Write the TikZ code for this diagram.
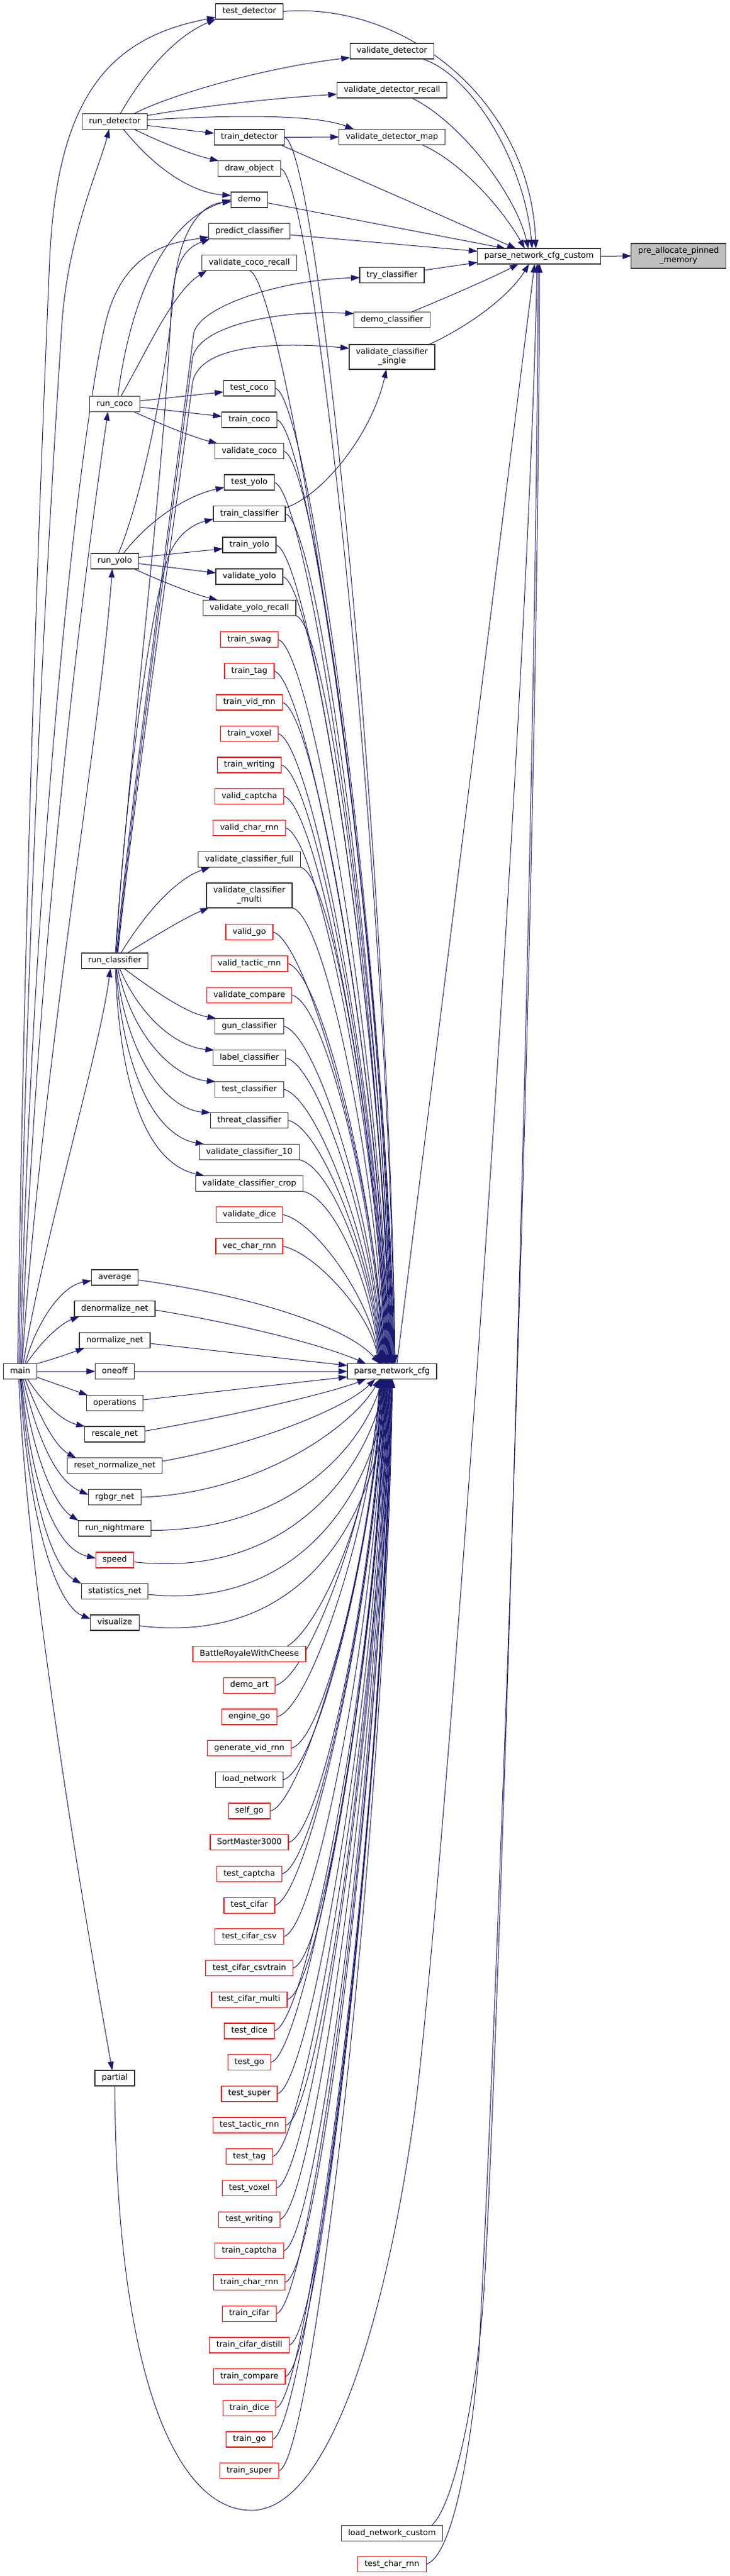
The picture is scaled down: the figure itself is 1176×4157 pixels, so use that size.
\documentclass[tikz,border=0pt]{standalone}
\usepackage{fontspec}
\newfontfamily\nfam{DejaVu Sans}
\newcommand\nf{\nfam\fontsize{13}{15}\selectfont}
\usetikzlibrary{arrows.meta,backgrounds,calc}
\definecolor{edgeblue}{HTML}{191970}
\definecolor{nodeborder}{HTML}{333333}
\definecolor{hlgray}{HTML}{BFBFBF}
\tikzset{
 nbox/.style={draw=nodeborder, line width=1.2pt, fill=white, font=\nf, inner xsep=11pt, inner ysep=2pt, outer sep=0pt, minimum height=25pt},
 nd/.style={nbox, text height=9.5pt, text depth=3.2pt},
 rd/.style={nd, draw=red},
 nd2/.style={nbox, align=center, minimum height=40pt},
 edg/.style={draw=edgeblue, line width=1pt, -{Triangle[length=14pt,width=9.5pt]}},
}
\begin{document}
\begin{tikzpicture}[x=1pt,y=-1pt]
\useasboundingbox (0,0) rectangle (1176,4157);
% ---------- column A / B
\node[nd] (main) at (32.5,2213) {main};
\node[nd] (rdet) at (185,196) {run\_detector};
\node[nd] (rcoco) at (185,652) {run\_coco};
\node[nd] (ryolo) at (185,905.5) {run\_yolo};
\node[nd] (rcls) at (185,1550.5) {run\_classifier};
\node[nd] (avg) at (185,2061.5) {average};
\node[nd] (denorm) at (185,2112) {denormalize\_net};
\node[nd] (norm) at (185,2163) {normalize\_net};
\node[nd] (oneoff) at (185,2213) {oneoff};
\node[nd] (ops) at (185,2264) {operations};
\node[nd] (rescale) at (185,2314.5) {rescale\_net};
\node[nd] (resetn) at (185,2365) {reset\_normalize\_net};
\node[nd] (rgbgr) at (185,2416) {rgbgr\_net};
\node[nd] (nightmare) at (185,2466.5) {run\_nightmare};
\node[rd] (speed) at (185,2517.5) {speed};
\node[nd] (stats) at (185,2568) {statistics\_net};
\node[nd] (vis) at (185,2618.5) {visualize};
\node[nd] (partial) at (185,3353.5) {partial};
% ---------- column C (upper)
\node[nd] (tdet) at (402,18.5) {test\_detector};
\node[nd] (trdet) at (402,221.5) {train\_detector};
\node[nd] (drawobj) at (402,272) {draw\_object};
\node[nd] (demo) at (402,322.5) {demo};
\node[nd] (predcls) at (402,373) {predict\_classifier};
\node[nd] (vcocor) at (402,424) {validate\_coco\_recall};
\node[nd] (tcoco) at (402,626.5) {test\_coco};
\node[nd] (trcoco) at (402,677.5) {train\_coco};
\node[nd] (vcoco) at (402,728) {validate\_coco};
\node[nd] (tyolo) at (402,778.5) {test\_yolo};
\node[nd] (trcls) at (402,829) {train\_classifier};
\node[nd] (tryolo) at (402,879.5) {train\_yolo};
\node[nd] (vyolo) at (402,930.5) {validate\_yolo};
\node[nd] (vyolor) at (402,981) {validate\_yolo\_recall};
\node[rd] (tswag) at (402,1032) {train\_swag};
\node[rd] (ttag) at (402,1083) {train\_tag};
\node[rd] (tvid) at (402,1133.5) {train\_vid\_rnn};
\node[rd] (tvoxel) at (402,1184) {train\_voxel};
\node[rd] (twriting) at (402,1234.5) {train\_writing};
\node[rd] (vcaptcha) at (402,1285) {valid\_captcha};
\node[rd] (vcharrnn) at (402,1336) {valid\_char\_rnn};
\node[nd] (vcfull) at (402,1387) {validate\_classifier\_full};
\node[nd2] (vcmulti) at (402,1445) {validate\_classifier\\\_multi};
\node[rd] (vgo) at (402,1504) {valid\_go};
\node[rd] (vtactic) at (402,1555) {valid\_tactic\_rnn};
\node[rd] (vcompare) at (402,1606) {validate\_compare};
\node[nd] (gun) at (402,1656) {gun\_classifier};
\node[nd] (label) at (402,1707) {label\_classifier};
\node[nd] (tcls) at (402,1758) {test\_classifier};
\node[nd] (threat) at (402,1808) {threat\_classifier};
\node[nd] (vc10) at (402,1859) {validate\_classifier\_10};
\node[nd] (vccrop) at (402,1910) {validate\_classifier\_crop};
\node[rd] (vdice) at (402,1960) {validate\_dice};
\node[rd] (vecchar) at (402,2011) {vec\_char\_rnn};
% ---------- column C (lower)
\foreach \nm/\st/\lab [count=\i from 0] in {battle/rd/BattleRoyaleWithCheese, demoart/rd/demo\_art, enginego/rd/engine\_go, genvid/rd/generate\_vid\_rnn, loadnet/nd/load\_network, selfgo/rd/self\_go, sortm/rd/SortMaster3000, tcaptcha/rd/test\_captcha, tcifar/rd/test\_cifar, tcifarcsv/rd/test\_cifar\_csv, tcifarcsvtrain/rd/test\_cifar\_csvtrain, tcifarmulti/rd/test\_cifar\_multi, tdice/rd/test\_dice, tgo/rd/test\_go, tsuper/rd/test\_super, ttactic/rd/test\_tactic\_rnn, ttagb/rd/test\_tag, tvoxelb/rd/test\_voxel, twritingb/rd/test\_writing, trcaptcha/rd/train\_captcha, trcharrnn/rd/train\_char\_rnn, trcifar/rd/train\_cifar, trcifardistill/rd/train\_cifar\_distill, trcompare/rd/train\_compare, trdice/rd/train\_dice, trgo/rd/train\_go, trsuper/rd/train\_super}
  \node[\st] (\nm) at (402,{2669+50.7*\i}) {\lab};
% ---------- column D
\node[nd] (vdet) at (632,82.5) {validate\_detector};
\node[nd] (vdetr) at (632,145.5) {validate\_detector\_recall};
\node[nd] (vdetmap) at (632,221) {validate\_detector\_map};
\node[nd] (trycls) at (632,444) {try\_classifier};
\node[nd] (democls) at (632,516) {demo\_classifier};
\node[nd2] (vcsingle) at (632,576) {validate\_classifier\\\_single};
\node[nd] (pnc) at (632,2213) {parse\_network\_cfg};
\node[nd] (lnc) at (632,4088) {load\_network\_custom};
\node[rd] (tcharrnn) at (632,4138) {test\_char\_rnn};
% ---------- column E / F
\node[nd] (pncc) at (869,413.5) {parse\_network\_cfg\_custom};
\node[nd2, fill=hlgray] (pam) at (1094,413) {pre\_allocate\_pinned\\\_memory};

\begin{pgfonlayer}{background}
\fill[white] (0,0) rectangle (1176,4157);
% ---- main
\draw[edg] ([xshift=-4pt]main.north) .. controls (40,1400) and (68,700) .. (80,420) .. controls (92,150) and (180,60) .. ([yshift=3pt]tdet.south west);
\draw[edg] ([xshift=-2pt]main.north) .. controls (45,1400) and (82,800) .. (100,520) .. controls (110,380) and (160,270) .. ([xshift=-9pt]rdet.south);
\draw[edg] (main.north) .. controls (55,1300) and (140,610) .. (176,500) .. controls (210,395) and (290,390) .. ([yshift=3pt]predcls.south west);
\draw[edg] ([xshift=2pt]main.north) .. controls (60,1500) and (140,900) .. ([xshift=-11pt]rcoco.south);
\draw[edg] ([xshift=3pt]main.north) .. controls (70,1700) and (160,1200) .. ([xshift=-4pt]ryolo.south);
\draw[edg] ([xshift=5pt]main.north) .. controls (70,2000) and (160,1700) .. ([xshift=-7pt]rcls.south);
\draw[edg] ([xshift=8pt]main.north) .. controls (60,2130) and (100,2075) .. ([yshift=-5pt]avg.west);
\draw[edg] ([xshift=10pt]main.north) .. controls (70,2160) and (100,2135) .. ([xshift=8pt]denorm.south west);
\draw[edg] (main.north east) .. controls (90,2192) and (115,2183) .. ([xshift=8pt]norm.south west);
\draw[edg] (main.east) -- (oneoff.west);
\draw[edg] ([yshift=3pt]main.south east) -- ([xshift=2pt]ops.north west);
\draw[edg] ([xshift=12pt]main.south) .. controls (70,2265) and (100,2293) .. (rescale.north west);
\draw[edg] ([xshift=8pt]main.south) .. controls (65,2290) and (90,2335) .. ([xshift=14pt]resetn.north west);
\draw[edg] ([xshift=5pt]main.south) .. controls (60,2320) and (90,2390) .. ([yshift=4pt]rgbgr.west);
\draw[edg] ([xshift=3pt]main.south) .. controls (55,2360) and (90,2430) .. (nightmare.north west);
\draw[edg] ([xshift=2pt]main.south) .. controls (50,2400) and (90,2500) .. ([yshift=3pt]speed.west);
\draw[edg] ([xshift=1pt]main.south) .. controls (48,2420) and (85,2530) .. (stats.north west);
\draw[edg] (main.south) .. controls (45,2450) and (90,2590) .. ([yshift=6pt]vis.west);
\draw[edg] ([xshift=-2pt]main.south) .. controls (40,2500) and (120,3000) .. ([xshift=-4pt]partial.north);
% ---- run_detector
\draw[edg] ([xshift=9pt]rdet.north) .. controls (230,120) and (280,60) .. (tdet.south west);
\draw[edg] ([xshift=31pt]rdet.north) .. controls (270,155) and (420,110) .. ([yshift=2pt]vdet.south west);
\draw[edg] ([yshift=-3pt]rdet.north east) .. controls (330,170) and (450,158) .. ([yshift=6pt]vdetr.south west);
\draw[edg] ([yshift=-10pt]rdet.north east) .. controls (380,185) and (510,185) .. ([xshift=24pt]vdetmap.north west);
\draw[edg] ([yshift=-19pt]rdet.north east) -- ([yshift=6.5pt]trdet.west);
\draw[edg] ([xshift=31pt]rdet.south) .. controls (260,230) and (310,250) .. ([xshift=1pt]drawobj.north west);
\draw[edg] ([xshift=14pt]rdet.south) .. controls (240,260) and (300,310) .. ([yshift=7pt]demo.west);
% ---- train_detector
\draw[edg] (trdet.east) -- (vdetmap.west);
\draw[edg] ([xshift=-6pt]trdet.south east) -- ([xshift=-37pt]pncc.north);
% ---- run_coco
\draw[edg] ([yshift=5pt]rcoco.east) -- ([yshift=-6pt]tcoco.west);
\draw[edg] ([yshift=-5pt]rcoco.east) -- ([yshift=5.5pt]trcoco.west);
\draw[edg] ([xshift=31pt]rcoco.south) .. controls (260,685) and (310,705) .. ([xshift=4pt]vcoco.north west);
\draw[edg] ([xshift=5pt]rcoco.north) .. controls (205,520) and (250,360) .. (demo.west);
\draw[edg] ([xshift=10pt]rcoco.north) .. controls (240,560) and (280,470) .. ([xshift=8pt]vcocor.south west);
% ---- run_yolo
\draw[edg] ([xshift=6pt]ryolo.north) .. controls (230,800) and (270,600) .. (280,470) .. controls (287,380) and (320,330) .. ([yshift=-3pt]demo.west);
\draw[edg] ([xshift=14pt]ryolo.north) .. controls (240,840) and (300,800) .. ([yshift=-8pt]tyolo.west);
\draw[edg] ([yshift=6pt]ryolo.east) -- ([yshift=-6pt]tryolo.west);
\draw[edg] ([yshift=-4pt]ryolo.east) -- ([yshift=6pt]vyolo.west);
\draw[edg] ([xshift=31pt]ryolo.south) .. controls (260,938) and (310,958) .. ([xshift=24pt]vyolor.north west);
% ---- run_classifier
\draw[edg] ([xshift=2pt]rcls.north) .. controls (200,1300) and (240,1000) .. (268,909) .. controls (282,860) and (315,845) .. ([yshift=4pt]trcls.south west);
\draw[edg] ([xshift=3pt]rcls.north) .. controls (215,1250) and (280,800) .. (312,540) .. controls (318,495) and (450,452) .. ([yshift=-4pt]trycls.west);
\draw[edg] ([xshift=4pt]rcls.north) .. controls (218,1250) and (282,800) .. (310,580) .. controls (317,525) and (450,500) .. ([yshift=10pt]democls.west);
\draw[edg] ([xshift=5pt]rcls.north) .. controls (220,1250) and (285,820) .. (310,620) .. controls (318,560) and (430,550) .. ([yshift=-6pt]vcsingle.north west);
\draw[edg] ([xshift=1pt]rcls.north) .. controls (210,1200) and (262,800) .. (276,500) .. controls (280,420) and (300,400) .. ([xshift=2pt]predcls.south west);
\draw[edg] ([xshift=10pt]rcls.north) .. controls (230,1480) and (280,1420) .. ([xshift=19pt]vcfull.south west);
\draw[edg] ([xshift=20pt]rcls.north) .. controls (250,1510) and (300,1480) .. ([xshift=4pt]vcmulti.south west);
\draw[edg] ([xshift=15pt]rcls.south) .. controls (250,1600) and (300,1635) .. ([xshift=2pt]gun.north west);
\draw[edg] ([xshift=8pt]rcls.south) .. controls (225,1640) and (285,1690) .. ([xshift=2pt]label.north west);
\draw[edg] ([xshift=5pt]rcls.south) .. controls (215,1680) and (285,1740) .. ([xshift=1pt]tcls.north west);
\draw[edg] ([xshift=3pt]rcls.south) .. controls (205,1710) and (270,1790) .. (threat.north west);
\draw[edg] ([xshift=2pt]rcls.south) .. controls (200,1750) and (260,1835) .. ([xshift=8pt]vc10.north west);
\draw[edg] ([xshift=1pt]rcls.south) .. controls (195,1790) and (250,1880) .. ([xshift=14pt]vccrop.north west);
% ---- train_classifier -> validate_classifier_single
\draw[edg] ([yshift=-3pt]trcls.north east) .. controls (520,800) and (600,700) .. ([xshift=-9pt]vcsingle.south);
% ---- into parse_network_cfg_custom
\draw[edg] (tdet.east) .. controls (650,2) and (855,160) .. ([xshift=-5pt]pncc.north);
\draw[edg] ([xshift=-19pt]vdet.south east) .. controls (760,120) and (845,260) .. ([xshift=-11pt]pncc.north);
\draw[edg] ([xshift=-57pt]vdetr.south east) .. controls (740,195) and (830,310) .. ([xshift=-17pt]pncc.north);
\draw[edg] ([xshift=-37pt]vdetmap.south east) .. controls (750,265) and (815,345) .. ([xshift=-23pt]pncc.north);
\draw[edg] ([yshift=-5pt]demo.east) -- ([xshift=-54pt]pncc.north);
\draw[edg] ([yshift=-6pt]predcls.east) -- ([yshift=8pt]pncc.west);
\draw[edg] ([yshift=8pt]trycls.east) -- ([yshift=-10pt]pncc.west);
\draw[edg] ([xshift=-30pt]democls.north east) .. controls (720,480) and (790,450) .. ([xshift=-33pt]pncc.south);
\draw[edg] ([xshift=-10pt]vcsingle.north east) .. controls (750,530) and (820,480) .. ([xshift=-16pt]pncc.south);
\draw[edg] ([xshift=8pt]pnc.north) -- ([xshift=-7pt]pncc.south);
\draw[edg] (partial.south) .. controls (188,3850) and (290,4051) .. (405,4051) .. controls (530,4051) and (620,3750) .. (667,3420) .. controls (710,3120) and (850,1200) .. ([xshift=-3pt]pncc.south);
\draw[edg] ([xshift=-18pt]lnc.north east) .. controls (735,4040) and (770,3850) .. (780,3700) .. controls (800,3400) and (862,1500) .. ([xshift=-1pt]pncc.south);
\draw[edg] (tcharrnn.east) .. controls (730,4125) and (760,3950) .. (772,3800) .. controls (796,3350) and (866,1600) .. ([xshift=1pt]pncc.south);
\draw[edg] (pncc.east) -- (pam.west);
% ---- column B lower -> parse_network_cfg
\draw[edg] ([yshift=-4pt]avg.east) .. controls (400,2090) and (560,2140) .. ([xshift=52pt]pnc.north west);
\draw[edg] ([yshift=-2pt]denorm.east) .. controls (380,2135) and (520,2170) .. ([xshift=30pt]pnc.north west);
\draw[edg] ([yshift=-5pt]norm.east) -- ([yshift=-3pt]pnc.north west);
\draw[edg] (oneoff.east) -- (pnc.west);
\draw[edg] ([yshift=5pt]ops.east) -- ([yshift=-9pt]pnc.west);
\draw[edg] ([yshift=5pt]rescale.east) .. controls (400,2280) and (540,2245) .. ([xshift=30pt]pnc.south west);
\draw[edg] ([yshift=7pt]resetn.east) .. controls (420,2330) and (560,2270) .. ([xshift=45pt]pnc.south west);
\draw[edg] (rgbgr.east) .. controls (420,2410) and (570,2300) .. ([xshift=52pt]pnc.south west);
\draw[edg] ([yshift=-3pt]nightmare.east) .. controls (480,2470) and (590,2320) .. ([xshift=56pt]pnc.south west);
\draw[edg] ([yshift=-3pt]speed.east) .. controls (480,2550) and (600,2350) .. ([xshift=60pt]pnc.south west);
\draw[edg] ([yshift=-5pt]stats.east) .. controls (500,2600) and (610,2380) .. ([xshift=63pt]pnc.south west);
\draw[edg] ([yshift=-5pt]vis.east) .. controls (520,2660) and (615,2400) .. ([xshift=66pt]pnc.south west);
% ---- column C upper -> parse_network_cfg
\foreach \nm/\an/\yy [count=\k from 0] in {trdet/east/221.5, drawobj/east/272, vcocor/south/436, tcoco/east/626.5, trcoco/east/677.5, vcoco/east/728, tyolo/east/778.5, trcls/east/829, tryolo/east/879.5, vyolo/east/930.5, vyolor/south east/993, tswag/east/1032, ttag/east/1083, tvid/east/1133.5, tvoxel/east/1184, twriting/east/1234.5, vcaptcha/east/1285, vcharrnn/east/1336, vcfull/south east/1399, vcmulti/south east/1465, vgo/east/1504, vtactic/east/1555, vcompare/east/1606, gun/east/1656, label/east/1707, tcls/east/1758, threat/east/1808, vc10/south east/1871, vccrop/south east/1922, vdice/east/1960, vecchar/east/2011}
{
 \pgfmathsetmacro\dx{5-0.9*\k}
 \pgfmathsetmacro\cx{622+\dx}
 \pgfmathsetmacro\cy{\yy+0.6*(2200-\yy)}
 \draw[edg] (\nm.\an) .. controls +(55,12) and (\cx,\cy) .. ([xshift=\dx pt]pnc.north);
}
% ---- column C lower -> parse_network_cfg
\draw[edg] ([xshift=-30pt]battle.north east) .. controls (510,2630) and (600,2450) .. ([xshift=-20pt]pnc.south);
\foreach \nm [count=\i from 1] in {demoart, enginego, genvid, loadnet, selfgo, sortm, tcaptcha, tcifar, tcifarcsv, tcifarcsvtrain, tcifarmulti, tdice, tgo, tsuper, ttactic, ttagb, tvoxelb, twritingb, trcaptcha, trcharrnn, trcifar, trcifardistill, trcompare, trdice, trgo, trsuper}
{
 \pgfmathsetmacro\yy{2669+50.7*\i}
 \pgfmathsetmacro\dx{-20+0.8*\i}
 \pgfmathsetmacro\cx{622+\dx}
 \pgfmathsetmacro\cy{\yy-0.6*(\yy-2226)}
 \draw[edg] (\nm.east) .. controls +(55,-12) and (\cx,\cy) .. ([xshift=\dx pt]pnc.south);
}
\end{pgfonlayer}
\end{tikzpicture}
\end{document}
